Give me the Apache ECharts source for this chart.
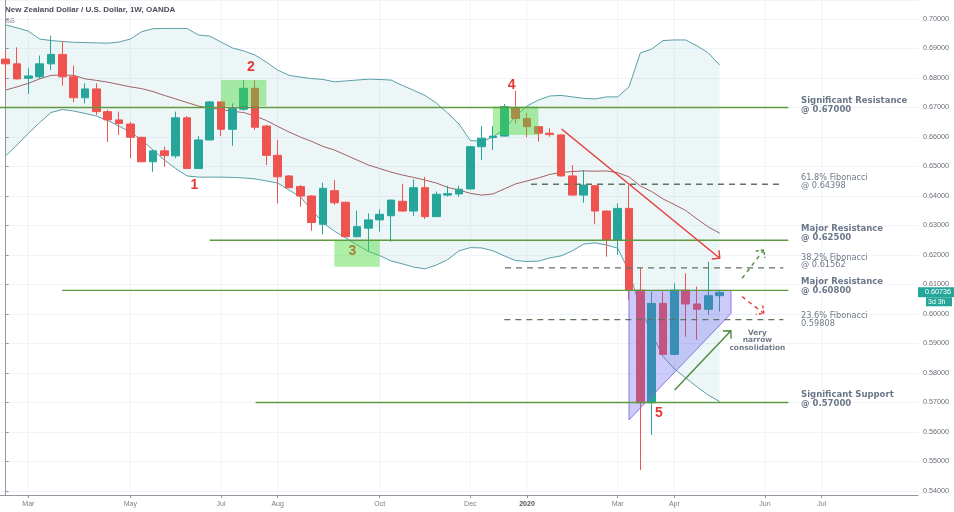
<!DOCTYPE html>
<html><head><meta charset="utf-8">
<script src="https://cdn.jsdelivr.net/npm/echarts@6/dist/echarts.min.js"></script>
<style>html,body{margin:0;padding:0;background:#fff}#c{width:954px;height:512px}</style>
</head><body><div id="c"></div>
<script>
// ---- axis structure ----
const firstWeek = '2019-02-18';
const weekCount = 81;
const tickLabels = [['2019-03-04','Mar'],['2019-05-06','May'],['2019-07-01','Jul'],['2019-08-05','Aug'],['2019-10-07','Oct'],['2019-12-02','Dec'],['2020-01-06','2020'],['2020-03-02','Mar'],['2020-04-06','Apr'],['2020-06-01','Jun'],['2020-07-06','Jul']];
const priceMin = 0.53864, priceMax = 0.70644;

// ---- weekly candles (from 2019-02-18) ----
const openP  = [0.6864,0.6848,0.6799,0.6804,0.6848,0.6880,0.6804,0.6733,0.6763,0.6686,0.6658,0.6644,0.6599,0.6516,0.6553,0.6536,0.6665,0.6493,0.6590,0.6719,0.6626,0.6694,0.6765,0.6637,0.6538,0.6468,0.6432,0.6400,0.6304,0.6418,0.6379,0.6262,0.6291,0.6319,0.6333,0.6382,0.6349,0.6428,0.6330,0.6403,0.6407,0.6424,0.6567,0.6598,0.6603,0.6699,0.6663,0.6635,0.6613,0.6607,0.6468,0.6403,0.6435,0.6349,0.6251,0.6358,0.6081,0.5699,0.6036,0.5863,0.6081,0.6034,0.6016,0.6062];
const highP  = [0.6895,0.6904,0.6833,0.6876,0.6943,0.6925,0.6842,0.6782,0.6782,0.6692,0.6686,0.6651,0.6601,0.6556,0.6567,0.6686,0.6671,0.6603,0.6722,0.6720,0.6714,0.6793,0.6793,0.6641,0.6590,0.6470,0.6437,0.6402,0.6445,0.6454,0.6380,0.6350,0.6341,0.6355,0.6388,0.6441,0.6457,0.6465,0.6415,0.6435,0.6435,0.6570,0.6637,0.6637,0.6712,0.6757,0.6682,0.6636,0.6630,0.6609,0.6505,0.6488,0.6437,0.6351,0.6375,0.6437,0.6155,0.6076,0.6076,0.6104,0.6138,0.6093,0.6177,0.6081];
const lowP   = [0.6771,0.6795,0.6746,0.6797,0.6827,0.6774,0.6718,0.6714,0.6675,0.6583,0.6607,0.6528,0.6515,0.6482,0.6499,0.6528,0.6492,0.6492,0.6588,0.6603,0.6570,0.6689,0.6624,0.6505,0.6375,0.6427,0.6364,0.6282,0.6270,0.6370,0.6261,0.6259,0.6211,0.6279,0.6245,0.6347,0.6333,0.6322,0.6329,0.6398,0.6398,0.6422,0.6522,0.6556,0.6602,0.6646,0.6599,0.6584,0.6601,0.6466,0.6402,0.6377,0.6304,0.6194,0.6200,0.6048,0.5471,0.5590,0.5861,0.5861,0.5923,0.5912,0.5997,0.6008];
const closeP = [0.6848,0.6797,0.6807,0.6848,0.6880,0.6804,0.6733,0.6763,0.6686,0.6658,0.6646,0.6599,0.6516,0.6553,0.6537,0.6665,0.6493,0.6590,0.6719,0.6626,0.6697,0.6765,0.6633,0.6538,0.6465,0.6428,0.6400,0.6310,0.6426,0.6377,0.6262,0.6296,0.6319,0.6338,0.6386,0.6349,0.6428,0.6330,0.6406,0.6408,0.6423,0.6567,0.6596,0.6603,0.6703,0.6663,0.6635,0.6613,0.6608,0.6468,0.6403,0.6437,0.6349,0.6251,0.6358,0.6081,0.5699,0.6036,0.5863,0.6081,0.6034,0.6016,0.6062,0.60736];

// ---- Bollinger bands ----
const bbUpper = [0.6980,0.6970,0.6959,0.6932,0.6927,0.6924,0.6921,0.6920,0.6919,0.6918,0.6922,0.6932,0.6957,0.6967,0.6968,0.6968,0.6968,0.6946,0.6942,0.6922,0.6902,0.6892,0.6878,0.6854,0.6827,0.6809,0.6803,0.6798,0.6795,0.6787,0.6790,0.6793,0.6796,0.6795,0.6793,0.6775,0.6758,0.6741,0.6715,0.6681,0.6644,0.6588,0.6585,0.6600,0.6627,0.6671,0.6705,0.6725,0.6739,0.6741,0.6736,0.6731,0.6729,0.6736,0.6736,0.6770,0.6885,0.6898,0.6927,0.6929,0.6929,0.6909,0.6885,0.6844];
const bbBasis = [0.6759,0.6770,0.6782,0.6797,0.6809,0.6810,0.6809,0.6797,0.6792,0.6786,0.6778,0.6770,0.6764,0.6754,0.6741,0.6729,0.6717,0.6705,0.6698,0.6693,0.6687,0.6683,0.6671,0.6656,0.6636,0.6617,0.6600,0.6585,0.6568,0.6556,0.6539,0.6522,0.6505,0.6493,0.6481,0.6471,0.6463,0.6454,0.6444,0.6429,0.6420,0.6409,0.6403,0.6407,0.6424,0.6441,0.6451,0.6461,0.6473,0.6480,0.6483,0.6485,0.6484,0.6485,0.6479,0.6465,0.6434,0.6415,0.6390,0.6371,0.6351,0.6322,0.6295,0.6274];
const bbLower = [0.6536,0.6573,0.6612,0.6649,0.6683,0.6693,0.6688,0.6680,0.6671,0.6656,0.6637,0.6617,0.6590,0.6556,0.6522,0.6493,0.6468,0.6464,0.6464,0.6464,0.6463,0.6461,0.6458,0.6451,0.6444,0.6420,0.6397,0.6353,0.6309,0.6281,0.6258,0.6234,0.6212,0.6198,0.6180,0.6170,0.6159,0.6153,0.6166,0.6184,0.6214,0.6225,0.6224,0.6214,0.6197,0.6181,0.6178,0.6179,0.6190,0.6197,0.6214,0.6237,0.6241,0.6234,0.6223,0.6145,0.6020,0.5933,0.5856,0.5814,0.5783,0.5753,0.5725,0.5703];

// ---- drawings (x = bar number from 2019-02-18, y = price) ----
const levelLines = [[0.67000,-0.5,69.06],[0.62500,18.0,69.06],[0.60800,4.98,69.06],[0.57000,22.05,69.06]];
const fibLines = [[0.64398,46.35,68.62],[0.61562,44.06,68.62],[0.59808,44.0,68.62]];
const greenBoxes = [[19,0.6793,23,0.6705],[29,0.6251,33,0.6160],[43,0.6703,47,0.6607]];
const wedge = [[55,0.6080],[64,0.6080],[64,0.6002],[55,0.5641]];
const waveLabels = [['1',16.66,0.6437],['2',21.64,0.6836],['3',30.59,0.6214],['4',44.65,0.6776],['5',57.64,0.5663]];
const arrows = [
  {from:[49.05,0.6627], to:[63.01,0.6189], color:'#e53935', dashed:false},
  {from:[59.03,0.5742], to:[63.99,0.5943], color:'#4f8a3c', dashed:false},
  {from:[64.98,0.6121], to:[66.89,0.6217], color:'#4f8a3c', dashed:true},
  {from:[64.98,0.6059], to:[66.89,0.6002], color:'#e53935', dashed:true}
];
const noteTexts = [
  ['Significant Resistance\n@ 0.67000',70.18,0.67068,'big'],
  ['61.8% Fibonacci\n@ 0.64398',70.18,0.64485,'small'],
  ['Major Resistance\n@ 0.62500',70.18,0.62735,'big'],
  ['38.2% Fibonacci\n@ 0.61562',70.18,0.61786,'small'],
  ['Major Resistance\n@ 0.60800',70.18,0.60942,'big'],
  ['23.6% Fibonacci\n0.59808',70.18,0.59790,'small'],
  ['Significant Support\n@ 0.57000',70.18,0.57100,'big']
];
const consolidationNote = ['Very\nnarrow\nconsolidation',66.33,0.59112];
const titleText = 'New Zealand Dollar / U.S. Dollar, 1W, OANDA';
const countdown = '3d 3h';

// ---- build ----
const FF = '"Liberation Sans", Arial, sans-serif';
const NF = '"DejaVu Sans", Verdana, sans-serif';
const categories = [];
(function(){const t0=Date.parse(firstWeek+'T00:00:00Z');for(let i=0;i<weekCount;i++){categories.push(new Date(t0+i*7*86400000).toISOString().slice(0,10));}})();
const tickMap = {}; tickLabels.forEach(t=>tickMap[t[0]]=t[1]);
const isTick = (idx, val) => tickMap.hasOwnProperty(val);
const candleData = openP.map((o,i)=>[o, closeP[i], lowP[i], highP[i]]);
const lastPrice = closeP[closeP.length-1];

function arrowHead(p0,p1,len,ang){
  const a=Math.atan2(p0[1]-p1[1],p0[0]-p1[0]);
  return [[p1[0]+len*Math.cos(a+ang),p1[1]+len*Math.sin(a+ang)],[p1[0],p1[1]],[p1[0]+len*Math.cos(a-ang),p1[1]+len*Math.sin(a-ang)]];
}
function customSeries(z, build){
  return {type:'custom', xAxisIndex:1, yAxisIndex:0, z:z, silent:true, animation:false,
    data:[[0,0.6]], renderItem:function(params, api){ if(params.dataIndex!==0) return; return {type:'group', children: build(api)}; }};
}
function headerGraphics(){
  return [
    {type:'text', left:5, top:6, style:{text:titleText, fill:'#4a4e5a', font:'bold 8px '+FF}},
    {type:'text', left:5, top:17, style:{text:'BB', fill:'#8a8d96', font:'7.5px '+FF}}
  ];
}

const chart = echarts.init(document.getElementById('c'));
const option = {
  animation:false,
  backgroundColor:'#ffffff',
  grid:{left:-2.2, right:36, top:0, bottom:17, containLabel:false},
  xAxis:[
    {type:'category', data:categories, boundaryGap:true,
     axisLine:{show:true, lineStyle:{color:'#9598a1'}},
     axisTick:{show:true, alignWithLabel:true, interval:isTick, length:3, lineStyle:{color:'#9598a1'}},
     axisLabel:{interval:isTick, margin:6, fontSize:7, color:'#7b7e87', fontFamily:FF,
       formatter:v=> tickMap[v]==='2020' ? '{b|2020}' : (tickMap[v]||''),
       rich:{b:{fontSize:7, fontWeight:'bold', color:'#50535e', fontFamily:FF}}},
     splitLine:{show:false}},
    {type:'value', min:-0.5, max:weekCount-0.5, show:false}
  ],
  yAxis:{type:'value', position:'right', min:priceMin, max:priceMax, splitNumber:17,
    axisLine:{show:true, lineStyle:{color:'#9598a1'}},
    axisTick:{show:true, length:3, lineStyle:{color:'#9598a1'}},
    axisLabel:{showMinLabel:false, showMaxLabel:false, formatter:v=>v.toFixed(5), fontSize:7.2, color:'#6a6d78', margin:5, fontFamily:FF},
    splitLine:{show:true, lineStyle:{color:'#f0f3fa', width:1}}},
  graphic: headerGraphics(),
  series:[
    // vertical grid lines at tick dates
    customSeries(0, api => tickLabels.map(t=>{
      const n = categories.indexOf(t[0]);
      const a = api.coord([n, priceMax]), b = api.coord([n, priceMin]);
      return {type:'line', shape:{x1:a[0],y1:a[1],x2:b[0],y2:b[1]}, style:{stroke:'#f0f3fa', lineWidth:1}};
    })),
    // BB fill
    customSeries(1, api => {
      const pts = bbUpper.map((u,i)=>api.coord([i,u])).concat(bbLower.map((l,i)=>api.coord([i,l])).reverse());
      return [{type:'polygon', shape:{points:pts}, style:{fill:'rgba(0,128,140,0.07)'}}];
    }),
    {type:'line', data:bbUpper, symbol:'none', z:2, lineStyle:{color:'#5a9fa8', width:1}, silent:true},
    {type:'line', data:bbLower, symbol:'none', z:2, lineStyle:{color:'#5a9fa8', width:1}, silent:true},
    {type:'line', data:bbBasis, symbol:'none', z:2, lineStyle:{color:'#a06262', width:1}, silent:true},
    {type:'candlestick', data:candleData, z:3, barWidth:8, silent:true,
     itemStyle:{color:'#26a69a', color0:'#ef5350', borderColor:'#26a69a', borderColor0:'#ef5350', borderWidth:1}},
    // wave numbers (under boxes)
    customSeries(4, api => waveLabels.map(w=>{
      const p = api.coord([w[1],w[2]]);
      return {type:'text', x:p[0], y:p[1], style:{text:w[0], fill:'#e53935', font:'bold 14px '+FF, align:'center', verticalAlign:'middle'}};
    })),
    // green boxes
    customSeries(5, api => greenBoxes.map(b=>{
      const p1 = api.coord([b[0],b[1]]), p2 = api.coord([b[2],b[3]]);
      return {type:'rect', shape:{x:p1[0], y:p1[1], width:p2[0]-p1[0], height:p2[1]-p1[1]}, style:{fill:'rgba(76,217,60,0.45)'}};
    })),
    // purple wedge
    customSeries(5, api => [{type:'polygon', shape:{points:wedge.map(p=>api.coord(p))}, style:{fill:'rgba(98,92,235,0.32)', stroke:'rgba(130,110,225,0.9)', lineWidth:1}}]),
    // level lines
    customSeries(6, api => levelLines.map(l=>{
      const a = api.coord([l[1],l[0]]), b = api.coord([l[2],l[0]]);
      return {type:'line', shape:{x1:a[0],y1:a[1],x2:b[0],y2:b[1]}, style:{stroke:'#5f9a41', lineWidth:1.4}};
    }).concat(fibLines.map(l=>{
      const a = api.coord([l[1],l[0]]), b = api.coord([l[2],l[0]]);
      return {type:'line', shape:{x1:a[0],y1:a[1],x2:b[0],y2:b[1]}, style:{stroke:'#5f735f', lineWidth:1.3, lineDash:[6,5]}};
    }))),
    // arrows
    customSeries(6, api => {
      const out = [];
      arrows.forEach(ar=>{
        const a = api.coord(ar.from), b = api.coord(ar.to);
        const st = {stroke:ar.color, lineWidth:1.4, fill:null};
        if (ar.dashed) st.lineDash = [4,4];
        out.push({type:'line', shape:{x1:a[0],y1:a[1],x2:b[0],y2:b[1]}, style:Object.assign({},st)});
        const hs = Object.assign({}, st); if (ar.dashed) hs.lineDash=[3,2];
        out.push({type:'polyline', shape:{points:arrowHead(a,b,8,Math.PI/4)}, style:hs});
      });
      return out;
    }),
    // notes
    customSeries(7, api => {
      const out = noteTexts.map(t=>{
        const p = api.coord([t[1],t[2]]);
        const big = t[3]==='big';
        return {type:'text', x:p[0], y:p[1], style:{text:t[0], fill: big ? '#6b7789' : '#6f7a88',
          font:(big?'bold 8.5px ':'8.2px ')+NF, lineHeight: big?9:7.8, align:'left', verticalAlign:'middle'}};
      });
      const c = api.coord([consolidationNote[1],consolidationNote[2]]);
      out.push({type:'text', x:c[0], y:c[1], style:{text:consolidationNote[0], fill:'#727c8a', font:'bold 7.4px '+NF, lineHeight:7.5, align:'center', verticalAlign:'middle'}});
      return out;
    })
  ]
};
chart.setOption(option);

// current price tag on the price axis
const py = chart.convertToPixel({yAxisIndex:0}, lastPrice);
const axisX = chart.convertToPixel({xAxisIndex:1}, weekCount-0.5);
chart.setOption({graphic: headerGraphics().concat([
  {type:'rect', shape:{x:axisX, y:py-5, width:954-axisX, height:10}, style:{fill:'#26a69a'}, z:10},
  {type:'text', x:axisX+7, y:py, style:{text:lastPrice.toFixed(5), fill:'#ffffff', font:'7.2px '+FF, verticalAlign:'middle'}, z:11},
  {type:'rect', shape:{x:axisX+8, y:py+5, width:954-axisX-10, height:9}, style:{fill:'#26a69a'}, z:10},
  {type:'text', x:axisX+10, y:py+9.5, style:{text:countdown, fill:'#ffffff', font:'7px '+FF, verticalAlign:'middle'}, z:11}
])});
</script>
</body></html>
